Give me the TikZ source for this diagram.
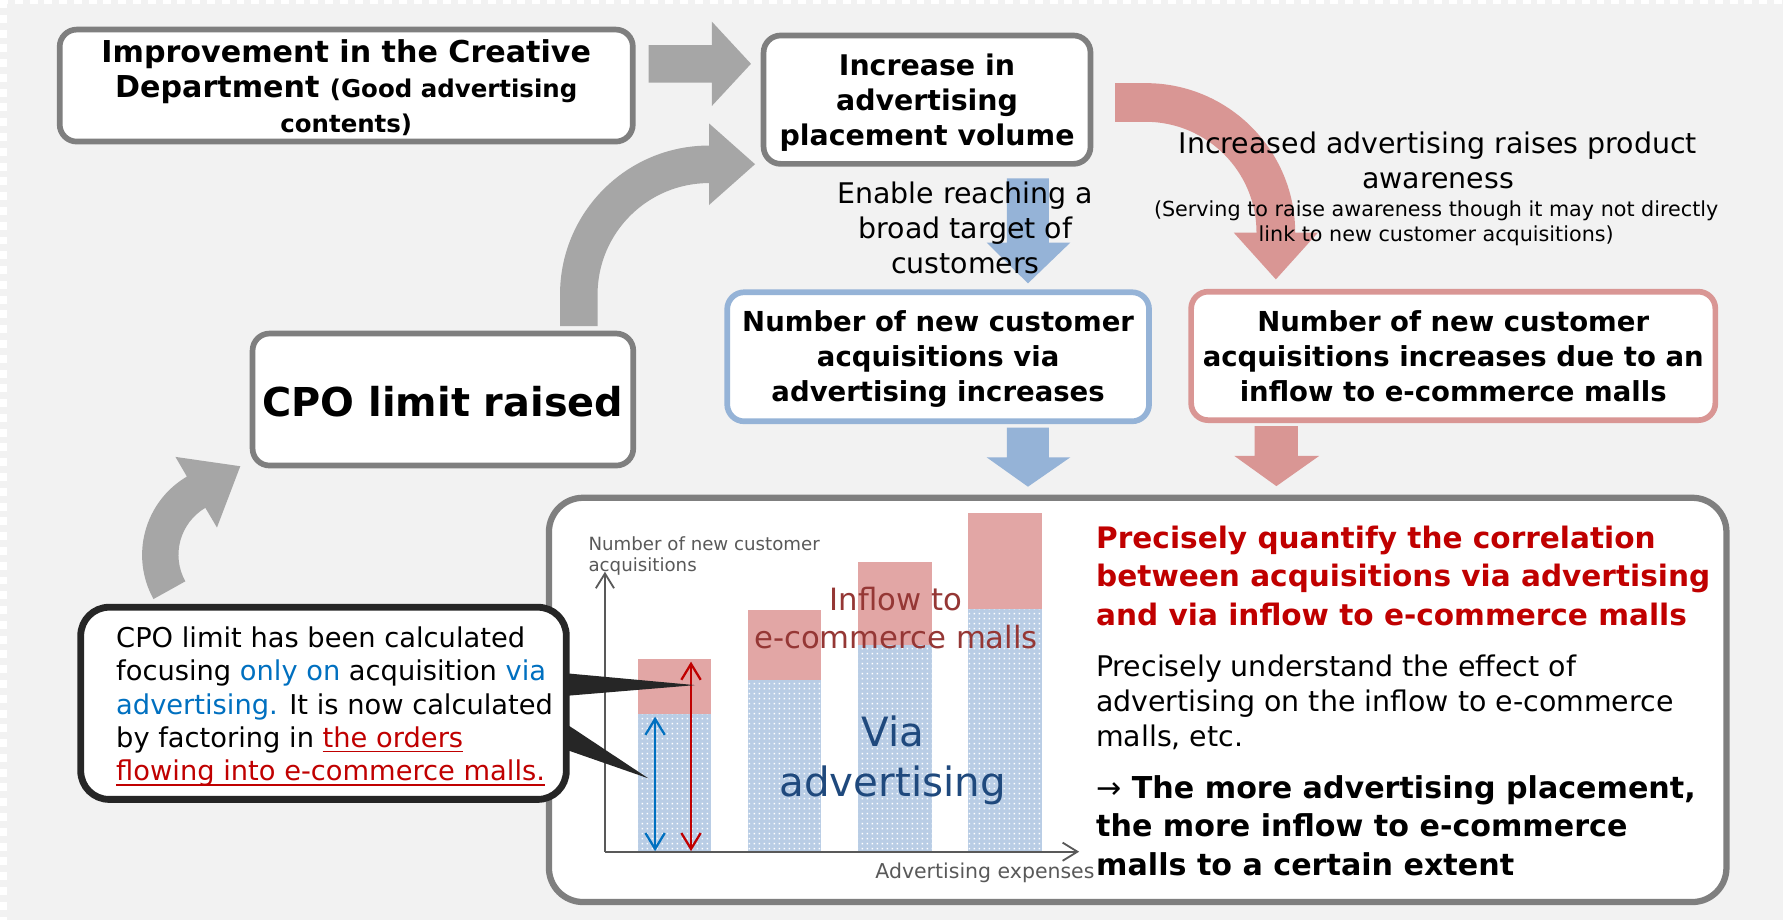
\documentclass[tikz,border=0pt]{standalone}
\usepackage{fontspec}
\setmainfont{DejaVu Sans}
\usetikzlibrary{arrows.meta,patterns}
\definecolor{bg}{HTML}{F2F2F2}
\definecolor{arrgray}{HTML}{A6A6A6}
\definecolor{boxgray}{HTML}{7F7F7F}
\definecolor{arrblue}{HTML}{95B3D7}
\definecolor{arrpink}{HTML}{D99694}
\definecolor{calloutdark}{HTML}{262626}
\definecolor{barblue}{HTML}{B9CDE5}
\definecolor{barred}{HTML}{E2A6A5}
\definecolor{axgray}{HTML}{595959}
\definecolor{cblue}{HTML}{0070C0}
\definecolor{cred}{HTML}{C00000}
\definecolor{inflowred}{HTML}{953735}
\definecolor{viablue}{HTML}{1F497D}
\newcommand\setfs[2]{\fontsize{#1}{#2}\selectfont}
\newsavebox\ulbox
\newcommand\myul[1]{\sbox\ulbox{#1}\rlap{\rule[-4.5pt]{\wd\ulbox}{1.5pt}}\usebox\ulbox}
\pgfdeclarepatternformonly{wdots}{\pgfqpoint{0pt}{0pt}}{\pgfqpoint{4.7pt}{4.7pt}}{\pgfqpoint{4.7pt}{4.7pt}}{\pgfpathrectangle{\pgfqpoint{1.7pt}{1.7pt}}{\pgfqpoint{1.3pt}{1.3pt}}\pgfusepath{fill}}
\begin{document}
\begin{tikzpicture}[x=1pt,y=1pt,yscale=-1,
  garrow/.style={fill=arrgray},
  gbox/.style={draw=boxgray, line width=5pt, fill=white, rounded corners=15pt, inner sep=0pt},
  bbox/.style={gbox, draw=arrblue},
  pbox/.style={gbox, draw=arrpink},
  txt/.style={inner sep=0pt, anchor=base, align=center},
  ltxt/.style={inner sep=0pt, anchor=base west, align=left},
  axisline/.style={draw=axgray, line width=1.6pt},
  dbl/.style={line width=2pt, {Straight Barb[length=14pt,width=17pt]}-{Straight Barb[length=14pt,width=17pt]}}
]
\useasboundingbox (0,0) rectangle (1568,809);
\fill[bg] (0,0) rectangle (1568,809);
\draw[white, line width=3.5pt, dash pattern=on 7pt off 6pt] (0,1.75) -- (1568,1.75);
\draw[white, line width=6pt, dash pattern=on 7pt off 6pt] (3,0) -- (3,809);

% gray block arrows
\fill[garrow] (570.5,39.6) -- (626,39.6) -- (626,19) -- (660.4,56.1) -- (626,93.2) -- (626,72.7) -- (570.5,72.7) -- cycle;
\fill[garrow] (492.5,286.7) -- (492.5,259) arc[start angle=180, end angle=270, radius=131pt]
  -- (623.5,108.5) -- (664,144.4) -- (623.5,180.3) -- (623.5,161)
  arc[start angle=270, end angle=180, radius=98pt] -- (525.5,286.7) -- cycle;
\fill[garrow] (135.0,526.8) arc[start angle=151, end angle=239.5, radius=80pt]
  -- (154.3,401.8) -- (211.3,410) -- (190.8,463.9) -- (180.6,446.6)
  arc[start angle=239.5, end angle=151, radius=48pt] -- cycle;

% pink curved arrow and blue arrow
\fill[arrpink] (980.7,73.1) -- (1007.5,73.1) arc[start angle=-90, end angle=0, radius=131.5pt]
  -- (1159,204.6) -- (1122,245.7) -- (1085,204.6) -- (1105,204.6)
  arc[start angle=0, end angle=-90, radius=97.5pt] -- (980.7,107.1) -- cycle;
\fill[arrblue] (885.4,156.8) -- (922.4,156.8) -- (922.4,213.4) -- (941.2,213.4) -- (904,249.2) -- (867.7,213.4) -- (885.4,213.4) -- cycle;

% boxes
\node[gbox, minimum width=504pt, minimum height=98.5pt] (b1) at (304.5,75.25) {};
\node[gbox, minimum width=287.5pt, minimum height=112.9pt] (b2) at (815.25,87.65) {};
\node[gbox, minimum width=334.8pt, minimum height=116.1pt] (cpo) at (389.5,351.35) {};
\node[bbox, minimum width=371pt, minimum height=113.5pt] (bb) at (825,313.75) {};
\node[pbox, minimum width=461pt, minimum height=113pt] (pb) at (1278,313) {};

% lower arrows
\fill[arrblue] (885.4,376.1) -- (922.4,376.1) -- (922.4,402.2) -- (941.2,402.2) -- (904,428) -- (867.7,402.2) -- (885.4,402.2) -- cycle;
\fill[arrpink] (1103.3,374.7) -- (1141.3,374.7) -- (1141.3,401) -- (1160,401) -- (1122.5,427.5) -- (1085.6,401) -- (1103.3,401) -- cycle;

% big box
\node[gbox, line width=5.5pt, rounded corners=30pt, minimum width=1035.5pt, minimum height=355.5pt] (big) at (1000.5,615.5) {};

% bars
\foreach \xa/\xb/\top/\mid in {560.8/625/579.9/628.3, 657.6/722.1/536.5/598.1, 754.9/819.4/494.6/567.3, 851.7/916.2/451/535.9}{
  \fill[barred] (\xa,\top) rectangle (\xb,\mid);
  \fill[barblue] (\xa,\mid) rectangle (\xb,748.5);
  \fill[pattern=wdots, pattern color=white] (\xa,\mid) rectangle (\xb,748.5);
}
\coordinate (O) at (532,749);
\coordinate (Ytop) at (532,502.8);
\coordinate (Xend) at (949,749);
\draw[axisline, -{Straight Barb[length=13pt,width=16pt]}] (O) -- (Ytop);
\draw[axisline, -{Straight Barb[length=13pt,width=16pt]}] (O) -- (Xend);
\coordinate (ba1) at (576.1,630.3);
\coordinate (ba2) at (576.1,748.5);
\coordinate (ra1) at (607.7,581.9);
\coordinate (ra2) at (607.7,748.5);
\draw[dbl, cblue] (ba1) -- (ba2);
\draw[dbl, cred] (ra1) -- (ra2);

% callout
\fill[calloutdark] (497,592) -- (611.3,602.5) -- (497,612) -- cycle;
\fill[calloutdark] (497,636) -- (570.2,684.5) -- (497,659) -- cycle;
\node[gbox, draw=calloutdark, line width=6pt, rounded corners=25pt, minimum width=427pt, minimum height=169pt] (call) at (284.5,618.5) {};

% texts (base anchor = baseline of the last line)
\node[txt, font=\setfs{26.5}{31}\bfseries] (t1) at (304.5,116.9) {Improvement in the Creative\\Department {\setfs{21.5}{31}(Good advertising}\\{\setfs{21.5}{31}contents)}};
\node[txt, font=\setfs{25}{31}\bfseries] (t2) at (815.25,128) {Increase in\\advertising\\placement volume};
\node[txt, font=\setfs{35}{40}\bfseries] (tcpo) at (389.5,365.9) {CPO limit raised};
\node[txt, font=\setfs{25}{30.8}] (tenable) at (849,240.4) {Enable reaching a\\broad target of\\customers};
\node[txt, font=\setfs{25}{30.7}] (taware) at (1264.5,165.6) {Increased advertising raises product\\awareness};
\node[txt, font=\setfs{18.2}{22}] (tserve) at (1263,212.6) {(Serving to raise awareness though it may not directly\\link to new customer acquisitions)};
\node[txt, font=\setfs{24.2}{30.8}\bfseries] (tblue) at (825,353.3) {Number of new customer\\acquisitions via\\advertising increases};
\node[txt, font=\setfs{24.2}{30.8}\bfseries] (tpink) at (1278,353.3) {Number of new customer\\acquisitions increases due to an\\inflow to e-commerce malls};
\node[ltxt, font=\setfs{24}{29.3}] (tcall) at (102,686.5) {CPO limit has been calculated\\focusing \textcolor{cblue}{only on} acquisition \textcolor{cblue}{via}\\\textcolor{cblue}{advertising.} It is now calculated\\by factoring in \textcolor{cred}{\myul{the orders}}\\\textcolor{cred}{\myul{flowing into e-commerce malls.}}};
\node[ltxt, font=\setfs{26}{33.7}\bfseries, text=cred] (ttitle) at (963.8,549.7) {Precisely quantify the correlation\\between acquisitions via advertising\\and via inflow to e-commerce malls};
\node[ltxt, font=\setfs{25}{30.8}] (tbody) at (963.8,656.7) {Precisely understand the effect of\\advertising on the inflow to e-commerce\\malls, etc.};
\node[ltxt, font=\setfs{26.5}{33.7}\bfseries] (tconc) at (963.8,769.6) {{\mdseries →} The more advertising placement,\\the more inflow to e-commerce\\malls to a certain extent};
\node[ltxt, font=\setfs{16}{19.1}, text=axgray] (tyl) at (517.4,502.8) {Number of new customer\\acquisitions};
\node[ltxt, font=\setfs{18}{20}, text=axgray] (txl) at (769.6,772.5) {Advertising expenses};
\node[txt, font=\setfs{27}{33.2}, text=inflowred] (tinflow) at (788,570.2) {Inflow to\\e-commerce malls};
\node[txt, font=\setfs{35.5}{44}, text=viablue] (tvia) at (785,700.7) {Via\\advertising};
\end{tikzpicture}
\end{document}
